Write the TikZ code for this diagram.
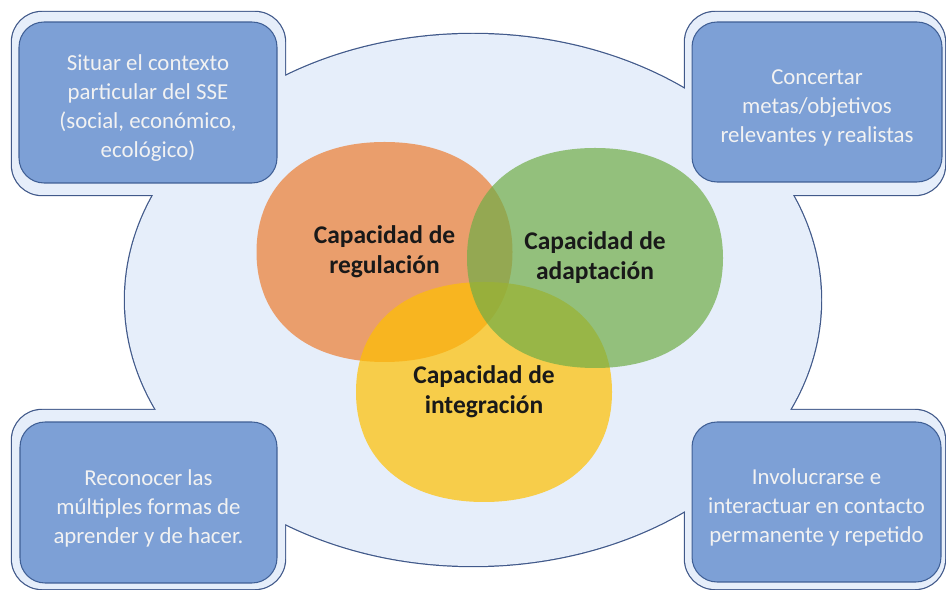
\documentclass[tikz,border=0pt]{standalone}
\usepackage{fontspec}
\setmainfont{Carlito}
\usepackage{tikz}
\usepackage{xcolor}
\usetikzlibrary{positioning}
\definecolor{Back_Fill}{HTML}{E6EEFA}
\definecolor{Back_Line}{HTML}{41598A}
\definecolor{Goal_Fill}{HTML}{7DA0D6}
\definecolor{Goal_Line}{HTML}{3F5F95}
\definecolor{Cap_Orange}{HTML}{ED7D31}
\definecolor{Cap_Gold}{HTML}{FFC000}
\definecolor{Cap_Green}{HTML}{70AD47}
\newcommand{\goalstrut}{\rule{0pt}{15.5pt}}

\begin{document}
\begin{tikzpicture}[x=0.02cm, y=-0.02cm,
        blob edge/.style={fill=Back_Fill, draw=Back_Line, line width=1.4pt, rounded corners=0.6cm},
        blob/.style={fill=Back_Fill, rounded corners=0.6cm},
        goalbox/.style={rectangle, rounded corners=0.5cm, draw=Goal_Line, line width=0.6pt,
            fill=Goal_Fill, text=white!95!black, align=center, inner sep=0pt,
            font=\fontsize{13}{16.5}\selectfont},
        capacity/.style={align=center, text=black!90, inner sep=0pt,
            font=\bfseries\fontsize{14.5}{17}\selectfont}]

        \useasboundingbox (0,0) rectangle (946,590);
        \clip (0,0) rectangle (946,590);

        % --- 1. Backdrop (ellipse + corner frames, outline of the union only) ---
        \foreach \opt in {blob edge, blob}{
            \path[\opt] (473,300) ellipse [x radius=348, y radius=266];
            \path[\opt] (12,12) rectangle (285,195);
            \path[\opt] (685,12) rectangle (945,195);
            \path[\opt] (12,410) rectangle (285,589);
            \path[\opt] (685,410) rectangle (945,589);
        }

        % --- 2. Corner boxes ---
        \node[goalbox, minimum width=5.16cm, minimum height=3.22cm] (contexto) at (148,102.5)
            {\goalstrut Situar el contexto\\particular del SSE\\(social, económico,\\ecológico)};
        \node[goalbox, minimum width=5.0cm, minimum height=3.2cm] (metas) at (817,102)
            {\goalstrut Concertar\\metas/objetivos\\relevantes y realistas};
        \node[goalbox, minimum width=5.14cm, minimum height=3.22cm] (aprender) at (148.5,502.5)
            {\goalstrut Reconocer las\\múltiples formas de\\aprender y de hacer.};
        \node[goalbox, minimum width=4.98cm, minimum height=3.2cm] (contacto) at (816.5,502)
            {\goalstrut Involucrarse e\\interactuar en contacto\\permanente y repetido};

        % --- 3. Capacities (flattened ovals: orange, gold on top, green last) ---
        \foreach \cx/\cy/\col in {384.5/252/Cap_Orange, 484/392/Cap_Gold, 595/258/Cap_Green}
            \fill[\col, fill opacity=0.7, shift={(\cx,\cy)}]
                (128,0) .. controls (128,68) and (79,110) .. (0,110)
                .. controls (-79,110) and (-128,68) .. (-128,0)
                .. controls (-128,-68) and (-79,-110) .. (0,-110)
                .. controls (79,-110) and (128,-68) .. (128,0) -- cycle;

        \node[capacity] (regulacion) at (384.5,252) {Capacidad de\\regulación};
        \node[capacity] (integracion) at (484,392) {Capacidad de\\integración};
        \node[capacity] (adaptacion) at (595,258) {Capacidad de\\adaptación};

\end{tikzpicture}
\end{document}
